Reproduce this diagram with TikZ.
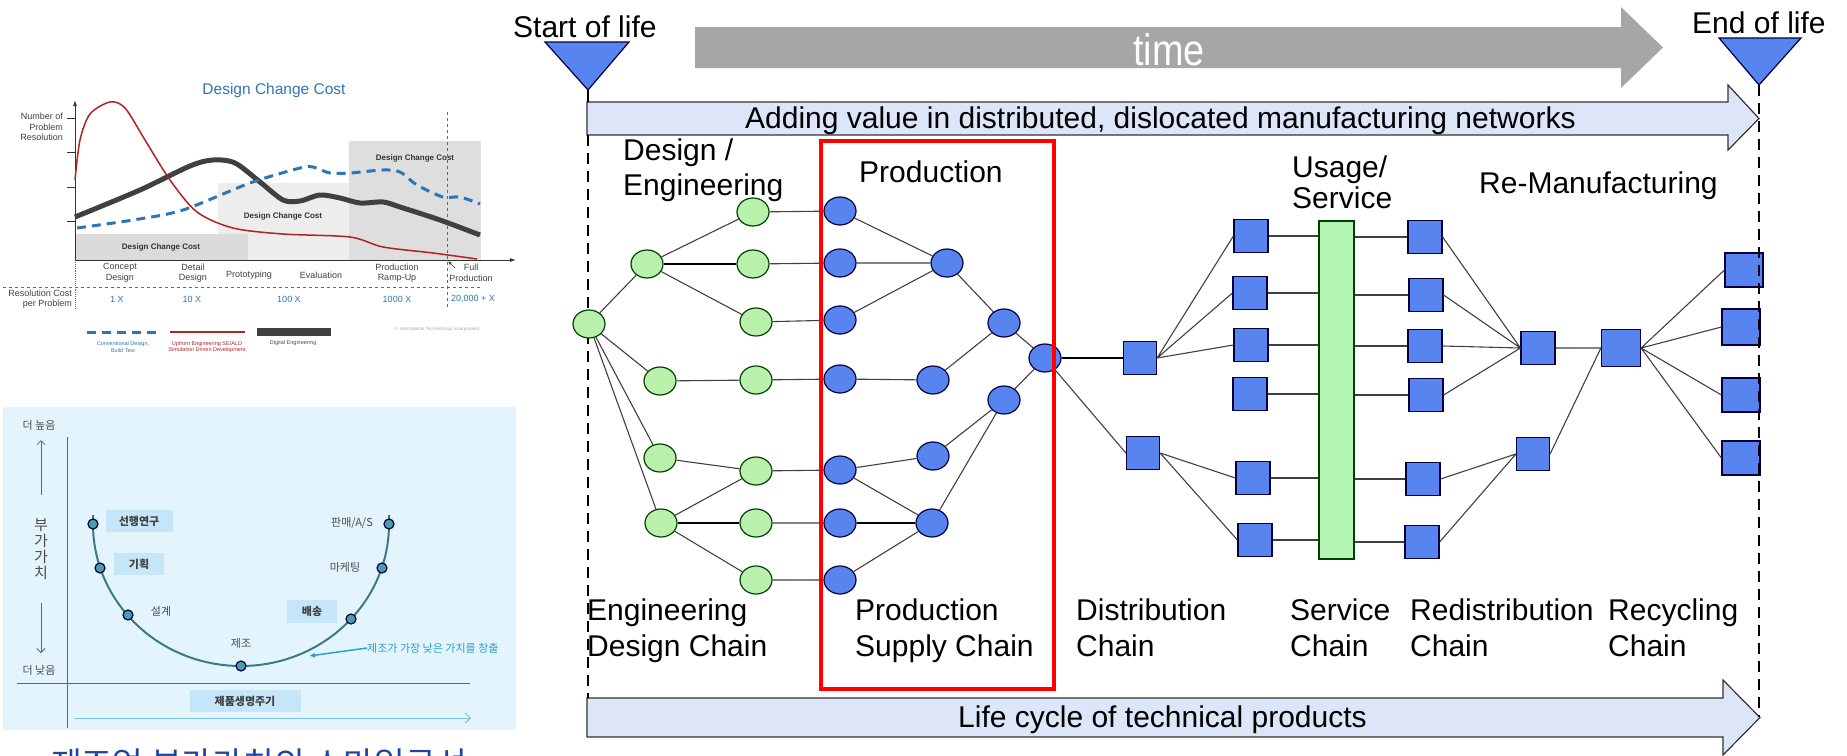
\documentclass[tikz,border=0pt]{standalone}
\usepackage{graphicx}
\usepackage{fontspec}
\setmainfont{Liberation Sans}
\newfontfamily\krfont{Noto Sans CJK KR}
\usetikzlibrary{arrows.meta,shapes.geometric}
\definecolor{nodeblue}{RGB}{88,132,240}
\definecolor{nodegreen}{RGB}{184,240,172}
\definecolor{bandblue}{RGB}{220,230,248}
\definecolor{timegray}{RGB}{166,166,166}
\definecolor{bargreen}{RGB}{180,245,180}
\definecolor{chartblue}{RGB}{46,117,182}
\definecolor{chartred}{RGB}{178,34,34}
\definecolor{chartdark}{RGB}{64,64,64}
\definecolor{smilebg}{RGB}{227,244,252}
\definecolor{smilebox}{RGB}{197,230,248}
\definecolor{smileline}{RGB}{62,122,134}
\definecolor{smiledot}{RGB}{75,157,168}
\definecolor{smiletext}{RGB}{42,160,208}
\definecolor{smilearrow}{RGB}{120,195,228}
\definecolor{captionblue}{RGB}{30,70,160}

\begin{document}
\begin{tikzpicture}[x=1pt,y=-1pt,
  gnode/.style={ellipse,draw=green!25!black,fill=nodegreen,line width=1.2pt,minimum width=32pt,minimum height=28pt,inner sep=0pt},
  bnode/.style={ellipse,draw=blue!25!black,fill=nodeblue,line width=1.2pt,minimum width=32pt,minimum height=28pt,inner sep=0pt},
  sqnode/.style={rectangle,draw=blue!25!black,fill=nodeblue,line width=1.2pt,minimum width=34pt,minimum height=33pt,inner sep=0pt},
  link/.style={black!75,line width=1.1pt},
  boldlink/.style={black,line width=2.4pt},
  lifeline/.style={black,line width=2.5pt,dash pattern=on 11pt off 7pt},
  biglbl/.style={font=\fontsize{30}{36}\selectfont,inner sep=0pt,anchor=base west},
  chartlbl/.style={font=\fontsize{9}{10.5}\selectfont,text=black!75,inner sep=0pt,align=center},
  legendlbl/.style={font=\fontsize{5.5}{6.5}\selectfont,inner sep=0pt,align=center},
  krlbl/.style={font=\krfont\fontsize{11}{13}\selectfont,text=black!70,inner sep=0pt},
  krbox/.style={fill=smilebox,minimum height=22pt,inner sep=0pt,font=\krfont\bfseries\fontsize{11}{13}\selectfont,text=black!75},
  smiledotstyle/.style={circle,draw=black!70!blue,fill=smiledot,line width=1.2pt,minimum size=10pt,inner sep=0pt}]
\useasboundingbox (0,0) rectangle (1847,755);
\clip (0,0) rectangle (1847,755);

\node[font=\fontsize{15.5}{18}\selectfont,text=chartblue] (chtitle) at (274,90) {Design Change Cost};
\fill[black!7] (218,183) rectangle (349,260);
\fill[black!14] (75,234) rectangle (248,260);
\fill[black!13] (349,141) rectangle (481,260);
\node[font=\bfseries\fontsize{8}{9}\selectfont,text=black!80] (cost1) at (161,247) {Design Change Cost};
\node[font=\bfseries\fontsize{8}{9}\selectfont,text=black!80] (cost2) at (283,216) {Design Change Cost};
\node[font=\bfseries\fontsize{8}{9}\selectfont,text=black!80] (cost3) at (415,158) {Design Change Cost};
\draw[black!60,dashed,line width=0.9pt] (447,112) -- (447,308);
\draw[black!60,dashed,line width=0.9pt] (3,287) -- (481,287);
\draw[black!60,densely dotted,line width=0.9pt] (75,260) -- (75,308);
\draw[black!80,line width=0.9pt,-{Latex[length=6pt,width=4pt]}] (75,260) -- (75,100);
\draw[black!80,line width=0.9pt,-{Latex[length=6pt,width=4pt]}] (75,260) -- (516,260);
\draw[black!80,line width=0.8pt] (67,118) -- (75,118) (67,152) -- (75,152) (67,187) -- (75,187) (67,221) -- (75,221);
\draw[chartdark,line width=5pt] plot[smooth] coordinates {(75,217) (140,190) (190,166) (213,160) (235,163) (260,182) (283,200) (300,201) (320,195) (340,198) (360,203) (383,202) (400,207) (440,220) (480,235)};
\draw[chartblue,line width=3pt,dash pattern=on 9pt off 6pt] plot[smooth] coordinates {(77,228) (133,220) (183,210) (250,183) (300,168) (313,167) (330,173) (350,173) (383,170) (400,172) (417,185) (443,197) (460,197) (480,204)};
\draw[chartred,line width=1.5pt] plot[smooth] coordinates {(75,180) (80,140) (90,114) (110,102) (125,108) (145,140) (170,180) (197,212) (233,228) (283,234) (350,237) (383,247) (433,253) (477,259)};
\node[chartlbl,anchor=east,align=right] (yaxlbl) at (63,127) {Number of\\Problem\\Resolution};
\node[chartlbl] (xconcept) at (120,273) {Concept\\Design};
\node[chartlbl] (xdetail) at (193,273) {Detail\\Design};
\node[chartlbl] (xproto) at (249,275) {Prototyping};
\node[chartlbl] (xeval) at (321,275) {Evaluation};
\node[chartlbl] (xramp) at (397,273) {Production\\Ramp-Up};
\node[chartlbl] (xfull) at (471,273) {Full\\Production};
\draw[black!80,line width=0.7pt,-{Latex[length=4pt,width=3pt]}] (455,268) -- (448,261);
\node[chartlbl,anchor=east,align=right] (costlbl) at (72,299) {Resolution Cost\\per Problem};
\node[chartlbl,text=chartblue] (c1) at (117,299) {1 X};
\node[chartlbl,text=chartblue] (c10) at (192,299) {10 X};
\node[chartlbl,text=chartblue] (c100) at (289,299) {100 X};
\node[chartlbl,text=chartblue] (c1000) at (397,299) {1000 X};
\node[chartlbl,text=chartblue] (c20000) at (473,299) {20,000 + X};
\draw[chartblue,line width=3pt,dash pattern=on 9pt off 6pt] (87,332) -- (158,332);
\draw[chartred,line width=1.5pt] (170,332) -- (245,332);
\fill[chartdark] (257,328) rectangle (331,336);
\node[legendlbl,text=chartblue] (lgconv) at (123,347) {Conventional Design,\\Build Test};
\node[legendlbl,text=chartred] (lgup) at (207,347) {Upfront Engineering SE/ALD\\Simulation Driven Development};
\node[legendlbl,text=black!70] (lgdig) at (293,343) {Digital Engineering};
\node[font=\fontsize{4.5}{5}\selectfont,text=black!35,inner sep=0pt] (lgcopy) at (437,329) {\textcopyright{} International TechneGroup Incorporated};

\fill[smilebg] (3,407) rectangle (516,730);
\draw[black!60,line width=0.8pt] (67,437) -- (67,728);
\draw[black!60,line width=0.8pt] (17,683) -- (470,683);
\draw[smilearrow,line width=1pt,-{Straight Barb[length=5pt,width=10pt]}] (74,718) -- (471,718);
\draw[black!60,line width=0.8pt,-{Straight Barb[length=4pt,width=8pt]}] (41,495) -- (41,440);
\draw[black!60,line width=0.8pt,-{Straight Barb[length=4pt,width=8pt]}] (41,603) -- (41,653);
\node[krlbl] (hi) at (39,425) {더 높음};
\node[krlbl] (lo) at (39,670) {더 낮음};
\node[krlbl,font=\krfont\fontsize{15}{16}\selectfont,align=center] (vaxis) at (41,549) {부\\가\\가\\치};
\draw[smileline,line width=2pt] (93,515) -- (93,524) arc[start angle=180,end angle=0,x radius=148,y radius=142] -- (389,515);
\node[smiledotstyle] (dresearch) at (93,524) {};
\node[smiledotstyle] (dplan) at (100,568) {};
\node[smiledotstyle] (ddesign) at (128,615) {};
\node[smiledotstyle] (dmfg) at (241,666) {};
\node[smiledotstyle] (ddeliver) at (351,619) {};
\node[smiledotstyle] (dmarket) at (382,568) {};
\node[smiledotstyle] (dsales) at (389,524) {};
\node[krbox,minimum width=67pt] (bresearch) at (139,521) {선행연구};
\node[krbox,minimum width=50pt] (bplan) at (139,564) {기획};
\node[krlbl] (tdesign) at (161,611) {설계};
\node[krlbl] (tmfg) at (241,643) {제조};
\node[krbox,minimum width=50pt,minimum height=23pt] (bdeliver) at (312,611) {배송};
\node[krlbl] (tmarket) at (345,567) {마케팅};
\node[krlbl] (tsales) at (352,523) {판매/A/S};
\node[krbox,minimum width=111pt] (blife) at (245,701) {제품생명주기};
\node[krlbl,text=smiletext,anchor=west] (tnote) at (367,648) {제조가 가장 낮은 가치를 창출};
\draw[smiletext,line width=1.5pt,-{Latex[length=6pt,width=5pt]}] (tnote.west) -- (309,656);
\node[font=\krfont\fontsize{33.5}{36}\selectfont,text=captionblue,anchor=base] (caption) at (259,776) {제조업 부가가치의 스마일곡선};

\fill[timegray] (695,27) -- (1621,27) -- (1621,7) -- (1663,47.5) -- (1621,88) -- (1621,68) -- (695,68) -- cycle;
\node[text=white,font=\fontsize{44}{48}\selectfont,inner sep=0pt,anchor=base west] (timelbl) at (1133,65) {\scalebox{0.86}[1]{time}};
\node[biglbl] (startlbl) at (513,37) {Start of life};
\node[biglbl] (endlbl) at (1692,33) {End of life};
\fill[bandblue] (587,102) -- (1728,102) -- (1728,85) -- (1759,118.5) -- (1728,150) -- (1728,135) -- (587,135) -- cycle;
\draw[black!80,line width=1.2pt] (587,102) -- (1728,102) -- (1728,85) -- (1759,118.5) -- (1728,150) -- (1728,135) -- (587,135) -- cycle;
\fill[bandblue] (587,698) -- (1723,698) -- (1723,680) -- (1760,717.5) -- (1723,755) -- (1723,737) -- (587,737) -- cycle;
\draw[black!80,line width=1.2pt] (587,698) -- (1723,698) -- (1723,680) -- (1760,717.5) -- (1723,755) -- (1723,737) -- (587,737) -- cycle;
\node[biglbl] (addlbl) at (745,128) {Adding value in distributed, dislocated manufacturing networks};
\node[biglbl] (lifelbl) at (958,727) {Life cycle of technical products};
\draw[black,line width=1.5pt] (588,90) -- (588,102);
\draw[lifeline] (588,135) -- (588,698);
\draw[fill=nodeblue,draw=blue!25!black,line width=1.2pt] (545,42) -- (629,42) -- (588,90) -- cycle;
\draw[fill=nodeblue,draw=blue!25!black,line width=1.2pt] (1719,38) -- (1801,38) -- (1759,85) -- cycle;

\node[biglbl] (designlbl) at (623,160) {Design /};
\node[biglbl] (englbl) at (623,195) {Engineering};
\node[biglbl] (prodlbl) at (859,182) {Production};
\node[biglbl] (usagelbl) at (1292,177) {Usage/};
\node[biglbl] (servlbl) at (1292,208) {Service};
\node[biglbl] (remanlbl) at (1479,193) {Re-Manufacturing};
\node[biglbl] (edc1) at (587,620) {Engineering};
\node[biglbl] (edc2) at (587,656) {Design Chain};
\node[biglbl] (psc1) at (855,620) {Production};
\node[biglbl] (psc2) at (855,656) {Supply Chain};
\node[biglbl] (dc1) at (1076,620) {Distribution};
\node[biglbl] (dc2) at (1076,656) {Chain};
\node[biglbl] (sc1) at (1290,620) {Service};
\node[biglbl] (sc2) at (1290,656) {Chain};
\node[biglbl] (rdc1) at (1410,620) {Redistribution};
\node[biglbl] (rdc2) at (1410,656) {Chain};
\node[biglbl] (rcc1) at (1608,620) {Recycling};
\node[biglbl] (rcc2) at (1608,656) {Chain};

\node[gnode] (g0) at (589,324) {};
\node[gnode] (g1) at (647,264) {};
\node[gnode] (g2) at (660,381) {};
\node[gnode] (g3) at (660,458) {};
\node[gnode] (g4) at (661,523) {};
\node[gnode] (g5) at (753,212) {};
\node[gnode] (g6) at (753,264) {};
\node[gnode] (g7) at (756,322) {};
\node[gnode] (g8) at (756,380) {};
\node[gnode] (g9) at (756,471) {};
\node[gnode] (g10) at (756,523) {};
\node[gnode] (g11) at (756,580) {};
\node[bnode] (b1) at (840,211) {};
\node[bnode] (b2) at (840,263) {};
\node[bnode] (b3) at (840,320) {};
\node[bnode] (b4) at (840,379) {};
\node[bnode] (b5) at (840,470) {};
\node[bnode] (b6) at (840,523) {};
\node[bnode] (b7) at (840,580) {};
\node[bnode] (b8) at (947,263) {};
\node[bnode] (b9) at (933,380) {};
\node[bnode] (b10) at (933,456) {};
\node[bnode] (b11) at (932,523) {};
\node[bnode] (b12) at (1004,323) {};
\node[bnode] (b13) at (1004,400) {};
\node[bnode] (b14) at (1045,358) {};
\node[sqnode,minimum width=33pt] (d1) at (1140,358) {};
\node[sqnode,minimum width=33pt] (d2) at (1143,453) {};
\node[sqnode] (s1) at (1251,236) {};
\node[sqnode] (s2) at (1250,293) {};
\node[sqnode] (s3) at (1251,345) {};
\node[sqnode] (s4) at (1250,394) {};
\node[sqnode] (s5) at (1253,478) {};
\node[sqnode] (s6) at (1255,540) {};
\node[rectangle,draw=green!25!black,fill=bargreen,line width=1.2pt,minimum width=35pt,minimum height=338pt,inner sep=0pt] (bar) at (1336.5,390) {};
\node[sqnode] (r1) at (1425,237) {};
\node[sqnode] (r2) at (1426,295) {};
\node[sqnode] (r3) at (1425,346) {};
\node[sqnode] (r4) at (1426,395) {};
\node[sqnode] (r5) at (1423,479) {};
\node[sqnode] (r6) at (1422,542) {};
\node[sqnode] (m1) at (1538,348) {};
\node[sqnode,minimum width=33pt] (m2) at (1533,454) {};
\node[sqnode,minimum width=39pt,minimum height=37pt] (n) at (1621,348) {};
\node[sqnode,minimum width=38pt,minimum height=34pt] (e1) at (1744,270) {};
\node[sqnode,minimum width=38pt,minimum height=36pt] (e2) at (1741,327) {};
\node[sqnode,minimum width=38pt,minimum height=34pt] (e3) at (1741,395) {};
\node[sqnode,minimum width=38pt,minimum height=34pt] (e4) at (1741,458) {};

\draw[link] (g0) -- (g1) (g0) -- (g2) (g0) -- (g3) (g0) -- (g4);
\draw[link] (g1) -- (g5) (g1) -- (g7) (g2) -- (g8) (g3) -- (g9) (g4) -- (g9) (g4) -- (g11);
\draw[boldlink] (g1) -- (g6) (g4) -- (g10);
\draw[link] (g5) -- (b1) (g6) -- (b2) (g7) -- (b3) (g8) -- (b4) (g9) -- (b5) (g10) -- (b6) (g11) -- (b7);
\draw[link] (b1) -- (b8) (b2) -- (b8) (b3) -- (b8) (b8) -- (b12) (b4) -- (b9) (b9) -- (b12) (b12) -- (b14);
\draw[link] (b5) -- (b10) (b5) -- (b11) (b7) -- (b11) (b10) -- (b13) (b11) -- (b13) (b13) -- (b14);
\draw[boldlink] (b6) -- (b11) (b14) -- (d1.west);
\draw[link] (b14) -- (d2.west);
\draw[link] (d1.east) -- (s1.west) (d1.east) -- (s2.west) (d1.east) -- (s3.west) (d2.east) -- (s5.west) (d2.east) -- (s6.west);
\draw[link] (s1) -- (s1 -| bar.west) (s2) -- (s2 -| bar.west) (s3) -- (s3 -| bar.west) (s4) -- (s4 -| bar.west) (s5) -- (s5 -| bar.west) (s6) -- (s6 -| bar.west);
\draw[link] (bar.east |- r1) -- (r1) (bar.east |- r2) -- (r2) (bar.east |- r3) -- (r3) (bar.east |- r4) -- (r4) (bar.east |- r5) -- (r5) (bar.east |- r6) -- (r6);
\draw[link] (r1.east) -- (m1.west) (r2.east) -- (m1.west) (r3.east) -- (m1.west) (r4.east) -- (m1.west) (r5.east) -- (m2.west) (r6.east) -- (m2.west);
\draw[link] (m1) -- (n) (m2.east) -- (n.west);
\draw[link] (n.east) -- (e1.west) (n.east) -- (e2.west) (n.east) -- (e3.west) (n.east) -- (e4.west);

\draw[lifeline] (1759,85) -- (1759,717);
\draw[red,line width=4.5pt] (821,141) rectangle (1054,689);
\end{tikzpicture}
\end{document}
